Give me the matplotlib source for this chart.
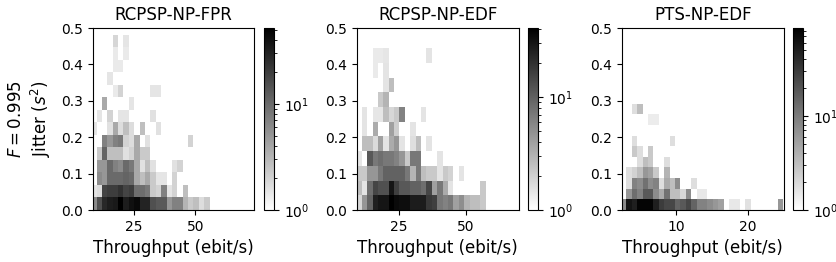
import numpy as np
import matplotlib
matplotlib.use("Agg")
import matplotlib.pyplot as plt
from matplotlib.colors import LogNorm

titles = ["RCPSP-NP-FPR", "RCPSP-NP-EDF", "PTS-NP-EDF"]

# counts, one list per y bin (bottom first), 0 = empty
counts_fpr = [
    [6, 15, 28, 33, 35, 52, 33, 40, 45, 30, 30, 15, 13, 13, 5, 7, 7, 3.2, 2.3, 2.7, 1.7, 2.3],
    [1.5, 1.7, 18, 20, 20, 24, 18, 20, 9.5, 9.5, 8, 2.3, 2, 7, 1.5, 2, 0, 2.7],
    [0, 6, 5, 10, 10, 10, 11, 10, 3.8, 2.7, 3.8, 2.3, 1.5, 1.5, 0, 2],
    [0, 5, 5, 10, 7, 6, 10, 8, 3.8, 1.6, 2.7, 1.6, 0, 0, 0, 1.6, 2],
    [0, 2.3, 11, 2.7, 2.7, 2.7, 1.6, 2, 3.8, 2.3, 2.3],
    [0, 0, 7, 5, 7, 8, 2, 1.7, 3.8, 0, 1.6, 0, 0, 0, 0, 0, 0, 0, 2],
    [1.5, 0, 0, 1.6, 3.8, 1.7, 2.7, 1.7, 0, 2.7, 0, 0, 1.6],
    [0, 1.5, 0, 2, 0, 1.5, 1.5, 0, 0, 0, 0, 1.6],
    [0, 0, 3.8, 0, 0, 0, 0, 1.5],
    [0, 0, 0, 0, 1.4, 2, 0, 0, 0, 0, 0, 1.5, 1.5],
    [0, 0, 0, 1.5],
    [0, 0, 0, 0, 1.4, 1.4],
    [0, 0, 0, 0, 1.4, 0, 1.4],
    [0, 0, 0, 0, 1.9, 0, 1.5],
]
counts_edf = [
    [1.8, 4.6, 9.6, 26, 30, 30, 41, 35, 33, 33, 27, 27, 27, 18, 16.4, 7.1, 6.2, 7.1, 4, 5.2, 3, 2.6, 2.6, 2.2],
    [2.6, 1.5, 8.3, 15, 12.8, 12.8, 30, 16.4, 11.3, 11.3, 9.8, 9.8, 8.3, 15, 4, 7.1, 3.4, 1.5, 0, 0, 0, 0, 0, 2.2],
    [2.2, 2.2, 4.6, 4.6, 7.1, 9.8, 9.8, 9.8, 9.8, 7.1, 3, 7.1, 2.6, 2.2, 2.2, 1.5, 2.2, 1.9, 0, 1.5],
    [1.45, 0, 11.3, 7.1, 8.3, 7.1, 7.1, 6.2, 4.6, 2.2, 7.1, 7.1, 0, 0, 0, 1.5],
    [0, 2.6, 2.6, 1.7, 4, 1.5, 3.4, 4.6, 1.5, 0, 1.6, 2.6, 0, 1.5],
    [0, 1.5, 0, 3.4, 0, 0, 4, 2.06, 0, 0, 1.5],
    [0, 1.5, 0, 1.45, 1.45, 2.6, 1.8, 2.2, 6.2, 0, 0, 0, 1.5],
    [0, 0, 0, 0, 2.2, 3],
    [0, 0, 0, 0, 0, 1.5, 2.6],
    [0, 0, 0, 1.36, 0, 1.5],
    [0, 0, 0, 1.36, 1.36, 1.45, 0, 0, 0, 0, 0, 0, 0, 1.5],
]
counts_pts = [
    [7.4, 60, 50, 80, 80, 80, 50, 30, 25, 25, 15, 18, 25, 15, 8.9, 8.9, 7.4, 6.2, 5.2, 0, 1.5, 1.5, 0, 1.7, 0, 0, 0, 0, 0, 6.2],
    [0, 6.2, 12.6, 8.9, 18, 18, 7.4, 4.4, 12, 3.1, 3.1, 2, 7.4, 0, 1.5, 1.5],
    [0, 1.8, 8.9, 7.4, 12, 7.4, 8.9, 1.8, 4.4, 3.1, 7.4, 0, 0, 1.8],
    [0, 1.8, 2.2, 3.1, 6.2, 5.2, 2.6, 0, 3.7],
    [0, 0, 0, 1.8, 3.1, 2.6, 0, 0, 1.8],
    [0, 0, 2.6, 1.8, 0, 2.6],
    [0, 0, 1.8, 0, 0, 0, 0, 0, 0, 1.8],
    [],
    [0, 0, 0, 0, 0, 1.4, 1.4],
    [0, 0, 1.8, 3.1],
]
all_counts = [counts_fpr, counts_edf, counts_pts]

# bins: first edge, width, how many
x_bins = [(7.45, 2.2, 30), (9.05, 2.02, 30), (2.32, 0.754, 30)]
y_step = [0.0344, 0.0404, 0.0292]
x_lims = [(8, 74), (9.3, 69.8), (2.46, 25)]
x_ticks = [[25, 50], [25, 50], [10, 20]]
vmax = [52, 41, 86]

fig_w, fig_h = 836, 262
left = [92.5, 357, 622]
cb_left = [264, 528, 793]
top, bottom = 28, 210

fig = plt.figure(figsize=(fig_w / 100, fig_h / 100), dpi=100)

for i, counts in enumerate(all_counts):
    ax = fig.add_axes([left[i] / fig_w, 1 - bottom / fig_h, 161.5 / fig_w, (bottom - top) / fig_h])
    cax = fig.add_axes([cb_left[i] / fig_w, 1 - bottom / fig_h, 10 / fig_w, (bottom - top) / fig_h])

    start, width, n = x_bins[i]
    xedges = start + width * np.arange(n + 1)
    yedges = y_step[i] * np.arange(len(counts) + 1)
    grid = np.zeros((len(counts), n))
    for r, row in enumerate(counts):
        grid[r, :len(row)] = row

    cmap = plt.get_cmap("binary").copy()
    cmap.set_bad("white")
    mesh = ax.pcolormesh(xedges, yedges, np.ma.masked_less_equal(grid, 0),
                         cmap=cmap, norm=LogNorm(vmin=1, vmax=vmax[i]))
    fig.colorbar(mesh, cax=cax)

    ax.set_xlim(x_lims[i])
    ax.set_ylim(0, 0.5)
    ax.set_xticks(x_ticks[i])
    ax.set_yticks([0.0, 0.1, 0.2, 0.3, 0.4, 0.5])
    ax.set_title(titles[i], fontsize=12)
    ax.set_xlabel("Throughput (ebit/s)", fontsize=12)
    if i == 0:
        ax.set_ylabel("$F=0.995$\nJitter ($s^2$)", fontsize=12, labelpad=5.5)

fig.savefig("out.png", dpi=100)
